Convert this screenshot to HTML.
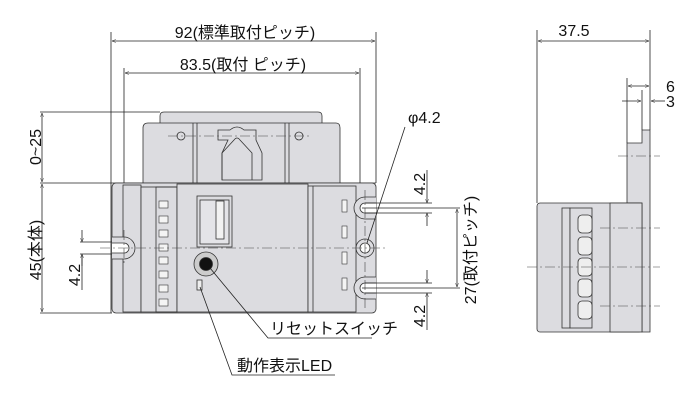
<!DOCTYPE html>
<html><head><meta charset="utf-8"><style>
html,body{margin:0;padding:0;background:#fff;width:700px;height:400px;overflow:hidden}
text{font-family:"Liberation Sans","Noto Sans CJK JP",sans-serif;fill:#111;font-weight:normal}
</style></head><body>
<svg width="700" height="400" viewBox="0 0 700 400" xmlns="http://www.w3.org/2000/svg">
<defs>
<marker id="a" viewBox="0 0 10 10" refX="10" refY="5" markerWidth="7" markerHeight="5" orient="auto-start-reverse"><path d="M0,1 L10,5 L0,9" fill="none" stroke="#222" stroke-width="1"/></marker>
</defs>
<g stroke="#222" stroke-width="0.8" fill="none">
<line x1="111" y1="32" x2="111" y2="313"/>
<line x1="376" y1="32" x2="376" y2="183"/>
<line x1="124" y1="68" x2="124" y2="265"/>
<line x1="360" y1="68" x2="360" y2="183"/>
<line x1="40" y1="112" x2="160" y2="112"/>
<line x1="40" y1="183" x2="376" y2="183"/>
<line x1="40" y1="313" x2="112" y2="313"/>
<line x1="112" y1="41" x2="375" y2="41" marker-start="url(#a)" marker-end="url(#a)"/>
<line x1="125" y1="73" x2="359" y2="73" marker-start="url(#a)" marker-end="url(#a)"/>
<line x1="42" y1="113" x2="42" y2="182" marker-start="url(#a)" marker-end="url(#a)"/>
<line x1="42" y1="184" x2="42" y2="312" marker-start="url(#a)" marker-end="url(#a)"/>
<line x1="80" y1="242" x2="124" y2="242"/><line x1="80" y1="254" x2="124" y2="254"/>
<line x1="82" y1="230" x2="82" y2="242" marker-end="url(#a)"/><line x1="82" y1="266" x2="82" y2="254" marker-end="url(#a)"/>
<line x1="82" y1="254" x2="82" y2="290"/>
<line x1="427" y1="170" x2="427" y2="203" marker-end="url(#a)"/><line x1="427" y1="226" x2="427" y2="213" marker-end="url(#a)"/>
<line x1="427" y1="270" x2="427" y2="283" marker-end="url(#a)"/><line x1="427" y1="330" x2="427" y2="293" marker-end="url(#a)"/>
<line x1="457" y1="209" x2="457" y2="287" marker-start="url(#a)" marker-end="url(#a)"/>
</g>
<!-- front view -->
<g stroke="#333" stroke-width="0.8" fill="#dcdce0">
<path d="M160,183 V116 Q160,112 164,112 H318 Q322,112 322,116 V183 Z"/>
<path d="M143,183 V128 Q143,123 148,123 H336 Q340,123 340,128 V183 Z"/>
<line x1="193" y1="123" x2="193" y2="183"/><line x1="197" y1="123" x2="197" y2="183"/>
<line x1="285" y1="123" x2="285" y2="183"/><line x1="289" y1="123" x2="289" y2="183"/>
<path d="M218,130 H230 Q237,124 244,130 H256 V140 L262,153 V180 H222 V153 L228,140 H218 Z"/>
<path d="M222,180 V153 L234,140 Q237,136 240,140 L252,153 V180" fill="none"/>
<circle cx="181" cy="136" r="4"/><circle cx="299" cy="136" r="4"/>
<rect x="112" y="183" width="264" height="130" rx="4"/>
<rect x="123" y="185" width="18" height="127" fill="none"/>
<rect x="141" y="187" width="36" height="125"/>
<rect x="156" y="187" width="21" height="125" fill="none"/>
<rect x="177" y="184" width="131" height="128"/>
<rect x="197" y="196" width="35" height="51"/>
<rect x="200" y="200" width="29" height="44" fill="#e4e4e8"/>
<rect x="308" y="186" width="48" height="126"/>
<line x1="313" y1="186" x2="313" y2="312"/>
<rect x="216" y="201" width="8" height="38" fill="#f2f2f2"/>
<circle cx="206" cy="264" r="12" fill="#ccc"/>
<circle cx="206" cy="264" r="6.5" fill="#111"/>
<rect x="197" y="280" width="5" height="10" fill="#eee"/>
<path d="M112,237 H124 A11,11 0 0 1 124,259 H112" />
<path d="M376,197 H365 A11,11 0 0 0 365,219 H376" />
<path d="M376,277 H365 A11,11 0 0 0 365,299 H376" />
<path d="M112,243 H124 A5,5 0 0 1 124,253 H112" fill="#fff"/>
<path d="M376,203 H365 A5,5 0 0 0 365,213 H376" fill="#fff"/>
<path d="M376,283 H365 A5,5 0 0 0 365,293 H376" fill="#fff"/>
<circle cx="365" cy="248" r="9"/><circle cx="365" cy="248" r="5" fill="#fff"/>
</g>
<g fill="#f4f4f4" stroke="#333" stroke-width="0.6">
<rect x="159" y="201" width="9" height="7"/><rect x="159" y="216" width="9" height="7"/><rect x="159" y="230" width="9" height="7"/><rect x="159" y="244" width="9" height="7"/><rect x="159" y="257" width="9" height="7"/><rect x="159" y="271" width="9" height="7"/><rect x="159" y="285" width="9" height="7"/><rect x="159" y="299" width="9" height="7"/>
<rect x="342" y="200" width="5" height="12"/><rect x="342" y="226" width="5" height="12"/><rect x="342" y="252" width="5" height="12"/><rect x="342" y="278" width="5" height="12"/>
</g>
<g stroke="#444" stroke-width="0.6" stroke-dasharray="10,3,2,3" fill="none">
<line x1="100" y1="248" x2="386" y2="248"/><line x1="168" y1="136" x2="312" y2="136"/>
<line x1="365" y1="190" x2="365" y2="310"/><line x1="124" y1="230" x2="124" y2="265"/>
</g>
<g stroke="#222" stroke-width="0.8" fill="none">
<line x1="365" y1="203" x2="432" y2="203"/><line x1="365" y1="213" x2="432" y2="213"/>
<line x1="365" y1="283" x2="432" y2="283"/><line x1="365" y1="293" x2="432" y2="293"/>
<line x1="362" y1="208" x2="460" y2="208"/><line x1="362" y1="288" x2="460" y2="288"/>
<polyline points="405,127 367,243"/>
<polyline points="210,268 268,338 372,338"/>
<polyline points="200,287 232,375 335,375"/>
</g>
<!-- side view -->
<g stroke="#222" stroke-width="0.8" fill="none">
<line x1="537" y1="30" x2="537" y2="203"/><line x1="650" y1="30" x2="650" y2="130"/>
<line x1="538" y1="41" x2="649" y2="41" marker-start="url(#a)" marker-end="url(#a)"/>
<line x1="627" y1="78" x2="627" y2="143"/><line x1="642" y1="90" x2="642" y2="130"/>
<line x1="628" y1="86" x2="649" y2="86" marker-start="url(#a)" marker-end="url(#a)"/>
<line x1="622" y1="101" x2="641" y2="101" marker-end="url(#a)"/><line x1="665" y1="101" x2="651" y2="101" marker-end="url(#a)"/>
</g>
<g stroke="#333" stroke-width="0.8" fill="#dcdce0">
<path d="M627,203 V143 H642 V130 H650 V332 H642 V203 Z"/>
<rect x="537" y="203" width="105" height="129" rx="3"/>
<rect x="562" y="208" width="8" height="120"/>
<rect x="570" y="208" width="22" height="120"/>
<rect x="610" y="203" width="32" height="129"/>
<g fill="#eee"><rect x="578" y="215" width="14" height="18" rx="4"/><rect x="578" y="237" width="14" height="18" rx="4"/><rect x="578" y="258" width="14" height="18" rx="4"/><rect x="578" y="279" width="14" height="18" rx="4"/><rect x="578" y="301" width="14" height="18" rx="4"/></g>
</g>
<g stroke="#444" stroke-width="0.6" stroke-dasharray="10,3,2,3">
<line x1="527" y1="267" x2="660" y2="267"/><line x1="600" y1="228" x2="660" y2="228"/><line x1="600" y1="306" x2="660" y2="306"/><line x1="618" y1="156" x2="660" y2="156"/>
</g>
<text x="245" y="38" font-size="16" text-anchor="middle">92(標準取付ピッチ)</text>
<text x="243" y="70" font-size="16" text-anchor="middle">83.5(取付 ピッチ)</text>
<text x="408" y="123" font-size="16">φ4.2</text>
<text font-size="16" text-anchor="middle" transform="translate(41,147) rotate(-90)">0~25</text>
<text font-size="16" text-anchor="middle" transform="translate(41,250) rotate(-90)">45(本体)</text>
<text font-size="16" text-anchor="middle" transform="translate(80,275) rotate(-90)">4.2</text>
<text font-size="16" text-anchor="middle" transform="translate(425,184) rotate(-90)">4.2</text>
<text font-size="16" text-anchor="middle" transform="translate(425,316) rotate(-90)">4.2</text>
<text font-size="16" text-anchor="middle" transform="translate(476,250) rotate(-90)">27(取付ピッチ)</text>
<text x="270" y="334" font-size="16">リセットスイッチ</text>
<text x="237" y="371" font-size="16">動作表示LED</text>
<text x="574" y="36" font-size="16" text-anchor="middle">37.5</text>
<text x="666" y="92" font-size="16">6</text>
<text x="666" y="107" font-size="16">3</text>
</svg>
</body></html>
